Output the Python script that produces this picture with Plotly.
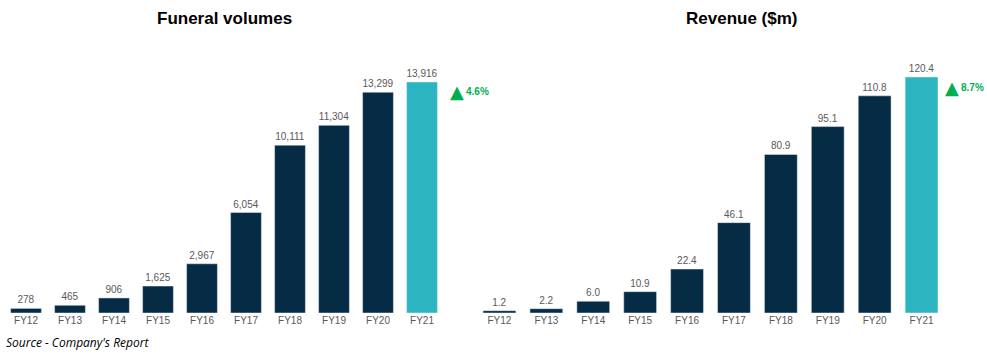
import plotly.graph_objects as go

years = ["FY12", "FY13", "FY14", "FY15", "FY16", "FY17", "FY18", "FY19", "FY20", "FY21"]
funeral_volumes = [278, 465, 906, 1625, 2967, 6054, 10111, 11304, 13299, 13916]
revenue = [1.2, 2.2, 6.0, 10.9, 22.4, 46.1, 80.9, 95.1, 110.8, 120.4]
funeral_labels = ["278", "465", "906", "1,625", "2,967", "6,054", "10,111", "11,304", "13,299", "13,916"]
revenue_labels = ["1.2", "2.2", "6.0", "10.9", "22.4", "46.1", "80.9", "95.1", "110.8", "120.4"]
funeral_growth = "4.6%"
revenue_growth = "8.7%"

W, H = 987, 353
navy = "#062B45"
teal = "#2CB5C0"
green = "#00B050"
colors = [navy] * 9 + [teal]

fig = go.Figure()
fig.add_trace(go.Bar(x=years, y=funeral_volumes, text=funeral_labels, textposition="outside",
                     marker_color=colors, width=0.7, xaxis="x", yaxis="y", cliponaxis=False,
                     constraintext="none",
                     textfont=dict(size=10, color="#595959", family="Liberation Sans")))
fig.add_trace(go.Bar(x=years, y=revenue, text=revenue_labels, textposition="outside",
                     marker_color=colors, width=0.7, xaxis="x2", yaxis="y2", cliponaxis=False,
                     constraintext="none",
                     textfont=dict(size=10, color="#595959", family="Liberation Sans")))

ybot = 40 / H
ytop = 1 - 60 / H
tickfont = dict(size=10, color="#595959", family="Liberation Sans")
fig.update_layout(
    width=W, height=H, margin=dict(l=0, r=0, t=0, b=0),
    paper_bgcolor="white", plot_bgcolor="white", showlegend=False,
    xaxis=dict(domain=[4 / W, 444 / W], showgrid=False, zeroline=False, showline=False,
               ticks="", tickfont=tickfont),
    yaxis=dict(domain=[ybot, ytop], range=[0, 13916 * 253 / 231], visible=False),
    xaxis2=dict(domain=[476 / W, 945 / W], showgrid=False, zeroline=False, showline=False,
                ticks="", tickfont=tickfont, anchor="y2"),
    yaxis2=dict(domain=[ybot, ytop], range=[0, 120.4 * 253 / 236], visible=False, anchor="x2"),
    font=dict(family="Liberation Sans"),
)

fig.add_annotation(text="<b>Funeral volumes</b>", x=224 / W, y=1 - 19 / H, xref="paper", yref="paper",
                   showarrow=False, font=dict(size=17, color="black", family="Liberation Sans"),
                   xanchor="center", yanchor="middle")
fig.add_annotation(text="<b>Revenue ($m)</b>", x=741 / W, y=1 - 19 / H, xref="paper", yref="paper",
                   showarrow=False, font=dict(size=17, color="black", family="Liberation Sans"),
                   xanchor="center", yanchor="middle")

for (tx, ty, g) in [(448, 92, funeral_growth), (943, 88, revenue_growth)]:
    fig.add_annotation(text="▲", x=tx / W, y=1 - (ty - 1) / H, xref="paper", yref="paper",
                       showarrow=False, font=dict(size=18, color=green, family="DejaVu Sans"),
                       xanchor="left", yanchor="middle")
    fig.add_annotation(text="<b>" + g + "</b>", x=(tx + 16) / W, y=1 - ty / H, xref="paper", yref="paper",
                       showarrow=False, font=dict(size=10, color=green, family="Liberation Sans"),
                       xanchor="left", yanchor="middle")

fig.add_annotation(text="<i>Source - Company's Report</i>", x=4 / W, y=1 - 342 / H, xref="paper", yref="paper",
                   showarrow=False, font=dict(size=12, color="black", family="Open Sans"),
                   xanchor="left", yanchor="middle")

fig.write_html("out.html")
